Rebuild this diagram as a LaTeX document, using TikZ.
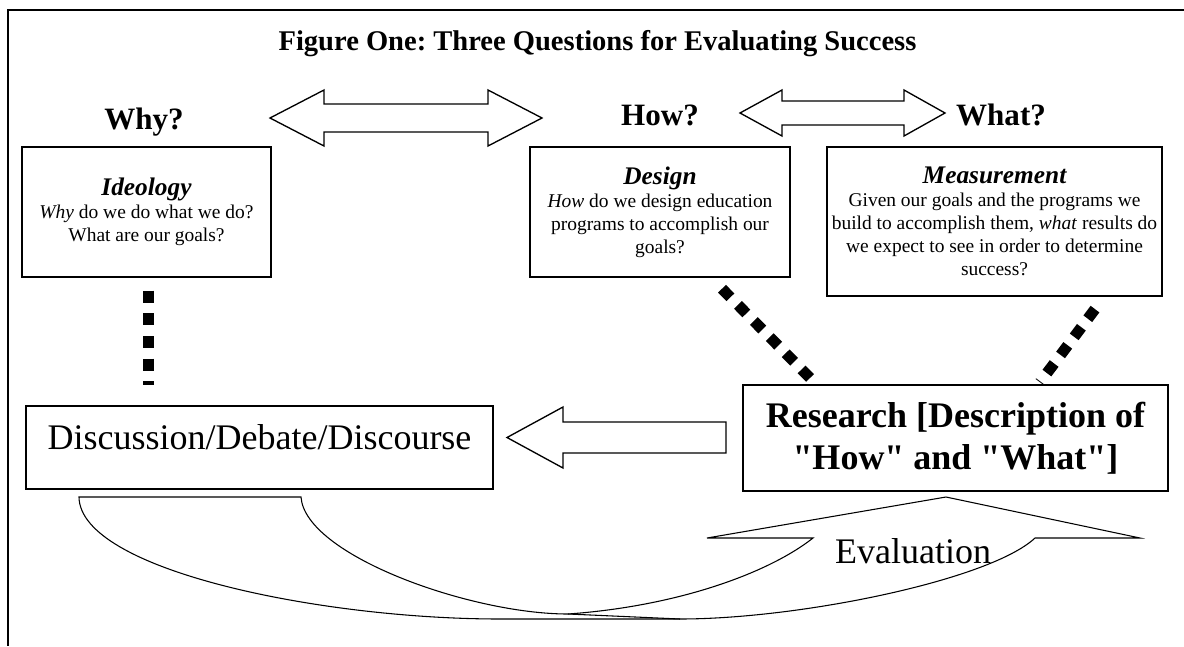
\documentclass[tikz,border=0pt]{standalone}
\usepackage{fontspec}
\setmainfont{Liberation Serif}
\usetikzlibrary{calc}
\tikzset{
  qbox/.style={draw,line width=1.1pt,align=center,inner sep=0pt},
  dots/.style={line width=8.25pt,dash pattern=on 9pt off 8pt},
  bigarrow/.style={draw,line width=1pt,line join=miter},
  question/.style={anchor=base,font=\fontsize{23.3}{28}\selectfont\bfseries},
}
\newcommand\headfont{\fontsize{19}{17.25}\selectfont\bfseries\itshape}
\newcommand\bodyfont{\fontsize{14.6}{17.25}\selectfont}
\frenchspacing

\begin{document}
\begin{tikzpicture}[x=0.75pt,y=-0.75pt]
\useasboundingbox (0,0) rectangle (1184,646);
% frame
\draw[line width=1.5pt] (1184,10) -- (8,10) -- (8,646);
\node[anchor=base,font=\fontsize{21.4}{25}\selectfont\bfseries] (title) at (597.5,50)
  {Figure One: Three Questions for Evaluating Success};

% the three questions
\node[question] (why) at (144,129) {Why?};
\node[question] (how) at (660,125) {How?};
\node[question] (what) at (1001,125) {What?};

\draw[bigarrow] (270,118) -- (324,90) -- (324,104) -- (488,104) -- (488,90) -- (542,118)
  -- (488,146) -- (488,132) -- (324,132) -- (324,146) -- cycle;
\draw[bigarrow] (740,113) -- (782,90) -- (782,101) -- (904,101) -- (904,90) -- (945,113)
  -- (904,136) -- (904,125) -- (782,125) -- (782,136) -- cycle;

% boxes
\node[qbox,minimum width=186.75pt,minimum height=97.5pt,font=\bodyfont] (ideo) at (146.5,212)
  {{\headfont Ideology}\\ \textit{Why} do we do what we do?\\ What are our goals?};
\node[qbox,minimum width=195pt,minimum height=97.5pt,font=\bodyfont] (design) at (660,212)
  {{\headfont Design}\\ \textit{How} do we design education\\ programs to accomplish our\\ goals?};
\node[qbox,minimum width=251.25pt,minimum height=111.75pt,font=\bodyfont] (measure) at (994.5,221.5)
  {{\headfont Measurement}\\ Given our goals and the programs we\\ build to accomplish them, \textit{what} results do\\ we expect to see in order to determine\\ success?};

\node[qbox,anchor=base,minimum width=350.25pt,text height=32.25pt,text depth=30pt,
  font=\fontsize{27}{31}\selectfont] (disc) at (259.5,449) {Discussion/Debate/Discourse};
\node[qbox,minimum width=318.75pt,minimum height=79.5pt,
  font=\fontsize{27}{31.5}\selectfont\bfseries] (research) at (955.5,438)
  {Research [Description of\\ \textquotedbl How\textquotedbl{} and \textquotedbl What\textquotedbl]};

% dotted links
\draw[dots] ($(ideo.south)+(1.5,13)$) -- ($(disc.north)+(-111.5,-20)$);
\draw[dots] ($(design.south)+(62,11)$) -- ($(research.north west)+(72,-2)$);
\draw[dots] ($(measure.south)+(100.5,12.4)$) -- ($(research.north)+(84.5,-2)$);

% research back to discussion
\draw[bigarrow] (507,437.5) -- (563,407) -- (563,422) -- (726,422) -- (726,453)
  -- (563,453) -- (563,468) -- cycle;

% evaluation loop
\draw[line width=0.8pt,line join=miter] (79,497) -- (301,497)
  .. controls (305,555) and (470,614) .. (568,614)
  .. controls (680,606) and (770,572) .. (813,538)
  -- (707,538) -- (946,497) -- (1140,538) -- (1035,538)
  .. controls (990,580) and (800,619) .. (680,619)
  -- (500,619)
  .. controls (320,619) and (80,570) .. (79,497) -- cycle;
\draw[line width=0.8pt] (568,614) -- (680,619);
\node[anchor=base,font=\fontsize{27}{31}\selectfont] (eval) at (913,563) {Evaluation};
\end{tikzpicture}
\end{document}
